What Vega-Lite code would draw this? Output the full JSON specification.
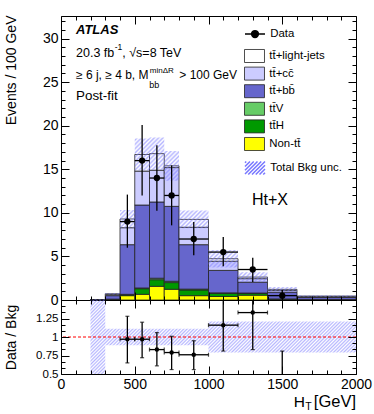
{
"$schema": "https://vega.github.io/schema/vega-lite/v6.json",
"background": "white",
"padding": {"left": 3, "top": 13, "right": 5, "bottom": 5},
"spacing": 0,
"bounds": "flush",
"datasets": {
"bkg": [
{"lo":200,"hi":300,"k":1,"p":"Non-tt\u0304","v":0},{"lo":200,"hi":300,"k":2,"p":"tt\u0304H","v":0},{"lo":200,"hi":300,"k":3,"p":"tt\u0304V","v":0},{"lo":200,"hi":300,"k":4,"p":"tt\u0304+bb\u0304","v":0.03},{"lo":200,"hi":300,"k":5,"p":"tt\u0304+cc\u0304","v":0.01},{"lo":200,"hi":300,"k":6,"p":"tt\u0304+light-jets","v":0.01},
{"lo":300,"hi":400,"k":1,"p":"Non-tt\u0304","v":0.05},{"lo":300,"hi":400,"k":2,"p":"tt\u0304H","v":0.03},{"lo":300,"hi":400,"k":3,"p":"tt\u0304V","v":0.02},{"lo":300,"hi":400,"k":4,"p":"tt\u0304+bb\u0304","v":0.4},{"lo":300,"hi":400,"k":5,"p":"tt\u0304+cc\u0304","v":0.12},{"lo":300,"hi":400,"k":6,"p":"tt\u0304+light-jets","v":0.1},
{"lo":400,"hi":500,"k":1,"p":"Non-tt\u0304","v":0.5},{"lo":400,"hi":500,"k":2,"p":"tt\u0304H","v":0.1},{"lo":400,"hi":500,"k":3,"p":"tt\u0304V","v":0.05},{"lo":400,"hi":500,"k":4,"p":"tt\u0304+bb\u0304","v":5.7},{"lo":400,"hi":500,"k":5,"p":"tt\u0304+cc\u0304","v":1.95},{"lo":400,"hi":500,"k":6,"p":"tt\u0304+light-jets","v":1.0},
{"lo":500,"hi":600,"k":1,"p":"Non-tt\u0304","v":0.65},{"lo":500,"hi":600,"k":2,"p":"tt\u0304H","v":0.65},{"lo":500,"hi":600,"k":3,"p":"tt\u0304V","v":0.08},{"lo":500,"hi":600,"k":4,"p":"tt\u0304+bb\u0304","v":9.52},{"lo":500,"hi":600,"k":5,"p":"tt\u0304+cc\u0304","v":3.9},{"lo":500,"hi":600,"k":6,"p":"tt\u0304+light-jets","v":1.9},
{"lo":600,"hi":700,"k":1,"p":"Non-tt\u0304","v":1.57},{"lo":600,"hi":700,"k":2,"p":"tt\u0304H","v":0.76},{"lo":600,"hi":700,"k":3,"p":"tt\u0304V","v":0.17},{"lo":600,"hi":700,"k":4,"p":"tt\u0304+bb\u0304","v":8.75},{"lo":600,"hi":700,"k":5,"p":"tt\u0304+cc\u0304","v":3.65},{"lo":600,"hi":700,"k":6,"p":"tt\u0304+light-jets","v":1.9},
{"lo":700,"hi":800,"k":1,"p":"Non-tt\u0304","v":1.23},{"lo":700,"hi":800,"k":2,"p":"tt\u0304H","v":0.77},{"lo":700,"hi":800,"k":3,"p":"tt\u0304V","v":0.15},{"lo":700,"hi":800,"k":4,"p":"tt\u0304+bb\u0304","v":8.6},{"lo":700,"hi":800,"k":5,"p":"tt\u0304+cc\u0304","v":4.45},{"lo":700,"hi":800,"k":6,"p":"tt\u0304+light-jets","v":0.2},
{"lo":800,"hi":1000,"k":1,"p":"Non-tt\u0304","v":0.5},{"lo":800,"hi":1000,"k":2,"p":"tt\u0304H","v":0.65},{"lo":800,"hi":1000,"k":3,"p":"tt\u0304V","v":0.1},{"lo":800,"hi":1000,"k":4,"p":"tt\u0304+bb\u0304","v":5.1},{"lo":800,"hi":1000,"k":5,"p":"tt\u0304+cc\u0304","v":2.0},{"lo":800,"hi":1000,"k":6,"p":"tt\u0304+light-jets","v":0.9},
{"lo":1000,"hi":1200,"k":1,"p":"Non-tt\u0304","v":0.4},{"lo":1000,"hi":1200,"k":2,"p":"tt\u0304H","v":0.35},{"lo":1000,"hi":1200,"k":3,"p":"tt\u0304V","v":0.07},{"lo":1000,"hi":1200,"k":4,"p":"tt\u0304+bb\u0304","v":2.58},{"lo":1000,"hi":1200,"k":5,"p":"tt\u0304+cc\u0304","v":1.05},{"lo":1000,"hi":1200,"k":6,"p":"tt\u0304+light-jets","v":0.29},
{"lo":1200,"hi":1400,"k":1,"p":"Non-tt\u0304","v":0.55},{"lo":1200,"hi":1400,"k":2,"p":"tt\u0304H","v":0.2},{"lo":1200,"hi":1400,"k":3,"p":"tt\u0304V","v":0.05},{"lo":1200,"hi":1400,"k":4,"p":"tt\u0304+bb\u0304","v":1.25},{"lo":1200,"hi":1400,"k":5,"p":"tt\u0304+cc\u0304","v":0.4},{"lo":1200,"hi":1400,"k":6,"p":"tt\u0304+light-jets","v":0.18},
{"lo":1400,"hi":1600,"k":1,"p":"Non-tt\u0304","v":0.05},{"lo":1400,"hi":1600,"k":2,"p":"tt\u0304H","v":0.05},{"lo":1400,"hi":1600,"k":3,"p":"tt\u0304V","v":0.02},{"lo":1400,"hi":1600,"k":4,"p":"tt\u0304+bb\u0304","v":0.78},{"lo":1400,"hi":1600,"k":5,"p":"tt\u0304+cc\u0304","v":0.2},{"lo":1400,"hi":1600,"k":6,"p":"tt\u0304+light-jets","v":0.12},
{"lo":1600,"hi":2000,"k":1,"p":"Non-tt\u0304","v":0.02},{"lo":1600,"hi":2000,"k":2,"p":"tt\u0304H","v":0.02},{"lo":1600,"hi":2000,"k":3,"p":"tt\u0304V","v":0.01},{"lo":1600,"hi":2000,"k":4,"p":"tt\u0304+bb\u0304","v":0.23},{"lo":1600,"hi":2000,"k":5,"p":"tt\u0304+cc\u0304","v":0.1},{"lo":1600,"hi":2000,"k":6,"p":"tt\u0304+light-jets","v":0.07}
],
"obs": [
{"x":450,"xl":400,"xh":500,"n":9,"lo":6.0,"hi":12.1},
{"x":550,"xl":500,"xh":600,"n":16,"lo":12.0,"hi":20.1},
{"x":650,"xl":600,"xh":700,"n":14,"lo":10.25,"hi":17.75},
{"x":750,"xl":700,"xh":800,"n":12,"lo":8.57,"hi":15.45},
{"x":900,"xl":800,"xh":1000,"n":7,"lo":5.13,"hi":8.95},
{"x":1100,"xl":1000,"xh":1200,"n":5.5,"lo":3.86,"hi":7.23},
{"x":1300,"xl":1200,"xh":1400,"n":3.5,"lo":2.07,"hi":4.86},
{"x":1500,"xl":1400,"xh":1600,"n":0.5,"lo":0.08,"hi":1.15}
],
"band": [
{"x":200,"lo":0,"hi":0.1},{"x":300,"lo":0.64,"hi":0.8},{"x":400,"lo":8.28,"hi":10.32},{"x":500,"lo":14.86,"hi":18.54},{"x":600,"lo":14.95,"hi":18.65},{"x":700,"lo":13.7,"hi":17.1},{"x":800,"lo":8.23,"hi":10.27},{"x":1000,"lo":3.74,"hi":5.74},{"x":1200,"lo":2.08,"hi":3.18},{"x":1400,"lo":0.96,"hi":1.48},{"x":1600,"lo":0.36,"hi":0.54},{"x":2000,"lo":0.36,"hi":0.54}
],
"ratio": [
{"x":450,"xl":400,"xh":500,"r":0.97,"lo":0.65,"hi":1.28},
{"x":550,"xl":500,"xh":600,"r":0.97,"lo":0.72,"hi":1.2},
{"x":650,"xl":600,"xh":700,"r":0.83,"lo":0.61,"hi":1.06},
{"x":750,"xl":700,"xh":800,"r":0.79,"lo":0.56,"hi":1.01},
{"x":900,"xl":800,"xh":1000,"r":0.76,"lo":0.56,"hi":0.95},
{"x":1100,"xl":1000,"xh":1200,"r":1.16,"lo":0.81,"hi":1.55},
{"x":1300,"xl":1200,"xh":1400,"r":1.33,"lo":0.83,"hi":1.7},
{"x":1500,"xl":1400,"xh":1600,"r":0.4,"lo":0.0,"hi":0.81}
],
"rband": [
{"x":200,"lo":0.5,"hi":1.5},{"x":300,"lo":0.89,"hi":1.11},{"x":400,"lo":0.89,"hi":1.11},{"x":500,"lo":0.89,"hi":1.11},{"x":600,"lo":0.89,"hi":1.11},{"x":700,"lo":0.89,"hi":1.11},{"x":800,"lo":0.89,"hi":1.11},{"x":1000,"lo":0.79,"hi":1.21},{"x":1200,"lo":0.79,"hi":1.21},{"x":1400,"lo":0.79,"hi":1.21},{"x":1600,"lo":0.79,"hi":1.21},{"x":2000,"lo":0.79,"hi":1.21}
]
},
"vconcat": [
{
"width": 295,
"height": 284,
"layer": [
{
"data": {"name": "bkg"},
"transform": [{"stack": "v", "groupby": ["lo"], "sort": [{"field": "k", "order": "ascending"}], "as": ["y0", "y1"]}],
"mark": {"type": "bar", "stroke": "#222222", "strokeWidth": 0.8},
"encoding": {
"x": {"field": "lo", "type": "quantitative", "scale": {"domain": [0, 2000], "nice": false},
 "axis": {"orient": "bottom", "zindex": 1, "values": [0,100,200,300,400,500,600,700,800,900,1000,1100,1200,1300,1400,1500,1600,1700,1800,1900,2000], "labels": false, "title": null,
  "tickSize": {"condition": {"test": "datum.value % 500 === 0", "value": -8}, "value": -4}}},
"x2": {"field": "hi"},
"y": {"field": "y0", "type": "quantitative", "scale": {"domain": [0, 32.6], "nice": false, "zero": false},
 "axis": {"orient": "left", "zindex": 1, "values": [0,1,2,3,4,5,6,7,8,9,10,11,12,13,14,15,16,17,18,19,20,21,22,23,24,25,26,27,28,29,30,31,32], "format": "d",
  "labelExpr": "datum.value % 5 === 0 ? datum.label : ''", "labelOverlap": false, "labelPadding": 11, "labelFontSize": 14,
  "tickSize": {"condition": {"test": "datum.value % 5 === 0", "value": -8}, "value": -4},
  "title": "Events / 100 GeV", "titleX": -45.5, "titleY": -1, "titleAngle": -90, "titleAlign": "right", "titleBaseline": "alphabetic", "titleFontSize": 14}},
"y2": {"field": "y1"},
"fill": {"field": "p", "type": "nominal",
 "scale": {"domain": ["tt\u0304+light-jets", "tt\u0304+cc\u0304", "tt\u0304+bb\u0304", "tt\u0304V", "tt\u0304H", "Non-tt\u0304"], "range": ["#ffffff", "#ccccff", "#6666cc", "#66cc66", "#009900", "#ffff00"]},
 "legend": {"orient": "none", "legendX": 185.5, "legendY": 32, "title": null, "padding": 0, "symbolType": "M-1.333,-0.867H1.333V0.867H-1.333Z", "symbolSize": 225, "rowPadding": -0.4, "labelOffset": 6.8, "labelFontSize": 11.4, "labelFont": "Liberation Sans", "labelColor": "black", "symbolStrokeWidth": 0.8}}
}
},
{
"data": {"name": "band"},
"mark": {"type": "area", "interpolate": "step-after", "fill": {"gradient": "linear", "x1": 0, "y1": 0, "x2": 1.173, "y2": 0.717, "stops": [
{"offset":0,"color":"#77f8"},{"offset":0.005,"color":"#77f0"},{"offset":0.01,"color":"#77f8"},{"offset":0.015,"color":"#77f0"},{"offset":0.02,"color":"#77f8"},{"offset":0.025,"color":"#77f0"},{"offset":0.03,"color":"#77f8"},{"offset":0.035,"color":"#77f0"},{"offset":0.04,"color":"#77f8"},{"offset":0.045,"color":"#77f0"},{"offset":0.05,"color":"#77f8"},{"offset":0.055,"color":"#77f0"},{"offset":0.06,"color":"#77f8"},{"offset":0.065,"color":"#77f0"},{"offset":0.07,"color":"#77f8"},{"offset":0.075,"color":"#77f0"},{"offset":0.08,"color":"#77f8"},{"offset":0.085,"color":"#77f0"},{"offset":0.09,"color":"#77f8"},{"offset":0.095,"color":"#77f0"},
{"offset":0.1,"color":"#77f8"},{"offset":0.105,"color":"#77f0"},{"offset":0.11,"color":"#77f8"},{"offset":0.115,"color":"#77f0"},{"offset":0.12,"color":"#77f8"},{"offset":0.125,"color":"#77f0"},{"offset":0.13,"color":"#77f8"},{"offset":0.135,"color":"#77f0"},{"offset":0.14,"color":"#77f8"},{"offset":0.145,"color":"#77f0"},{"offset":0.15,"color":"#77f8"},{"offset":0.155,"color":"#77f0"},{"offset":0.16,"color":"#77f8"},{"offset":0.165,"color":"#77f0"},{"offset":0.17,"color":"#77f8"},{"offset":0.175,"color":"#77f0"},{"offset":0.18,"color":"#77f8"},{"offset":0.185,"color":"#77f0"},{"offset":0.19,"color":"#77f8"},{"offset":0.195,"color":"#77f0"},
{"offset":0.2,"color":"#77f8"},{"offset":0.205,"color":"#77f0"},{"offset":0.21,"color":"#77f8"},{"offset":0.215,"color":"#77f0"},{"offset":0.22,"color":"#77f8"},{"offset":0.225,"color":"#77f0"},{"offset":0.23,"color":"#77f8"},{"offset":0.235,"color":"#77f0"},{"offset":0.24,"color":"#77f8"},{"offset":0.245,"color":"#77f0"},{"offset":0.25,"color":"#77f8"},{"offset":0.255,"color":"#77f0"},{"offset":0.26,"color":"#77f8"},{"offset":0.265,"color":"#77f0"},{"offset":0.27,"color":"#77f8"},{"offset":0.275,"color":"#77f0"},{"offset":0.28,"color":"#77f8"},{"offset":0.285,"color":"#77f0"},{"offset":0.29,"color":"#77f8"},{"offset":0.295,"color":"#77f0"},
{"offset":0.3,"color":"#77f8"},{"offset":0.305,"color":"#77f0"},{"offset":0.31,"color":"#77f8"},{"offset":0.315,"color":"#77f0"},{"offset":0.32,"color":"#77f8"},{"offset":0.325,"color":"#77f0"},{"offset":0.33,"color":"#77f8"},{"offset":0.335,"color":"#77f0"},{"offset":0.34,"color":"#77f8"},{"offset":0.345,"color":"#77f0"},{"offset":0.35,"color":"#77f8"},{"offset":0.355,"color":"#77f0"},{"offset":0.36,"color":"#77f8"},{"offset":0.365,"color":"#77f0"},{"offset":0.37,"color":"#77f8"},{"offset":0.375,"color":"#77f0"},{"offset":0.38,"color":"#77f8"},{"offset":0.385,"color":"#77f0"},{"offset":0.39,"color":"#77f8"},{"offset":0.395,"color":"#77f0"},
{"offset":0.4,"color":"#77f8"},{"offset":0.405,"color":"#77f0"},{"offset":0.41,"color":"#77f8"},{"offset":0.415,"color":"#77f0"},{"offset":0.42,"color":"#77f8"},{"offset":0.425,"color":"#77f0"},{"offset":0.43,"color":"#77f8"},{"offset":0.435,"color":"#77f0"},{"offset":0.44,"color":"#77f8"},{"offset":0.445,"color":"#77f0"},{"offset":0.45,"color":"#77f8"},{"offset":0.455,"color":"#77f0"},{"offset":0.46,"color":"#77f8"},{"offset":0.465,"color":"#77f0"},{"offset":0.47,"color":"#77f8"},{"offset":0.475,"color":"#77f0"},{"offset":0.48,"color":"#77f8"},{"offset":0.485,"color":"#77f0"},{"offset":0.49,"color":"#77f8"},{"offset":0.495,"color":"#77f0"},
{"offset":0.5,"color":"#77f8"},{"offset":0.505,"color":"#77f0"},{"offset":0.51,"color":"#77f8"},{"offset":0.515,"color":"#77f0"},{"offset":0.52,"color":"#77f8"},{"offset":0.525,"color":"#77f0"},{"offset":0.53,"color":"#77f8"},{"offset":0.535,"color":"#77f0"},{"offset":0.54,"color":"#77f8"},{"offset":0.545,"color":"#77f0"},{"offset":0.55,"color":"#77f8"},{"offset":0.555,"color":"#77f0"},{"offset":0.56,"color":"#77f8"},{"offset":0.565,"color":"#77f0"},{"offset":0.57,"color":"#77f8"},{"offset":0.575,"color":"#77f0"},{"offset":0.58,"color":"#77f8"},{"offset":0.585,"color":"#77f0"},{"offset":0.59,"color":"#77f8"},{"offset":0.595,"color":"#77f0"},
{"offset":0.6,"color":"#77f8"},{"offset":0.605,"color":"#77f0"},{"offset":0.61,"color":"#77f8"},{"offset":0.615,"color":"#77f0"},{"offset":0.62,"color":"#77f8"},{"offset":0.625,"color":"#77f0"},{"offset":0.63,"color":"#77f8"},{"offset":0.635,"color":"#77f0"},{"offset":0.64,"color":"#77f8"},{"offset":0.645,"color":"#77f0"},{"offset":0.65,"color":"#77f8"},{"offset":0.655,"color":"#77f0"},{"offset":0.66,"color":"#77f8"},{"offset":0.665,"color":"#77f0"},{"offset":0.67,"color":"#77f8"},{"offset":0.675,"color":"#77f0"},{"offset":0.68,"color":"#77f8"},{"offset":0.685,"color":"#77f0"},{"offset":0.69,"color":"#77f8"},{"offset":0.695,"color":"#77f0"},
{"offset":0.7,"color":"#77f8"},{"offset":0.705,"color":"#77f0"},{"offset":0.71,"color":"#77f8"},{"offset":0.715,"color":"#77f0"},{"offset":0.72,"color":"#77f8"},{"offset":0.725,"color":"#77f0"},{"offset":0.73,"color":"#77f8"},{"offset":0.735,"color":"#77f0"},{"offset":0.74,"color":"#77f8"},{"offset":0.745,"color":"#77f0"},{"offset":0.75,"color":"#77f8"},{"offset":0.755,"color":"#77f0"},{"offset":0.76,"color":"#77f8"},{"offset":0.765,"color":"#77f0"},{"offset":0.77,"color":"#77f8"},{"offset":0.775,"color":"#77f0"},{"offset":0.78,"color":"#77f8"},{"offset":0.785,"color":"#77f0"},{"offset":0.79,"color":"#77f8"},{"offset":0.795,"color":"#77f0"},
{"offset":0.8,"color":"#77f8"},{"offset":0.805,"color":"#77f0"},{"offset":0.81,"color":"#77f8"},{"offset":0.815,"color":"#77f0"},{"offset":0.82,"color":"#77f8"},{"offset":0.825,"color":"#77f0"},{"offset":0.83,"color":"#77f8"},{"offset":0.835,"color":"#77f0"},{"offset":0.84,"color":"#77f8"},{"offset":0.845,"color":"#77f0"},{"offset":0.85,"color":"#77f8"},{"offset":0.855,"color":"#77f0"},{"offset":0.86,"color":"#77f8"},{"offset":0.865,"color":"#77f0"},{"offset":0.87,"color":"#77f8"},{"offset":0.875,"color":"#77f0"},{"offset":0.88,"color":"#77f8"},{"offset":0.885,"color":"#77f0"},{"offset":0.89,"color":"#77f8"},{"offset":0.895,"color":"#77f0"},
{"offset":0.9,"color":"#77f8"},{"offset":0.905,"color":"#77f0"},{"offset":0.91,"color":"#77f8"},{"offset":0.915,"color":"#77f0"},{"offset":0.92,"color":"#77f8"},{"offset":0.925,"color":"#77f0"},{"offset":0.93,"color":"#77f8"},{"offset":0.935,"color":"#77f0"},{"offset":0.94,"color":"#77f8"},{"offset":0.945,"color":"#77f0"},{"offset":0.95,"color":"#77f8"},{"offset":0.955,"color":"#77f0"},{"offset":0.96,"color":"#77f8"},{"offset":0.965,"color":"#77f0"},{"offset":0.97,"color":"#77f8"},{"offset":0.975,"color":"#77f0"},{"offset":0.98,"color":"#77f8"},{"offset":0.985,"color":"#77f0"},{"offset":0.99,"color":"#77f8"},{"offset":0.995,"color":"#77f0"},{"offset":1,"color":"#77f8"}
]}},
"encoding": {
"x": {"field": "x", "type": "quantitative",
 "axis": {"orient": "top", "zindex": 1, "values": [0,100,200,300,400,500,600,700,800,900,1000,1100,1200,1300,1400,1500,1600,1700,1800,1900,2000], "labels": false, "title": null,
  "tickSize": {"condition": {"test": "datum.value % 500 === 0", "value": -8}, "value": -4}}},
"y": {"field": "lo", "type": "quantitative",
 "axis": {"orient": "right", "zindex": 1, "values": [0,1,2,3,4,5,6,7,8,9,10,11,12,13,14,15,16,17,18,19,20,21,22,23,24,25,26,27,28,29,30,31,32], "labels": false, "title": null,
  "tickSize": {"condition": {"test": "datum.value % 5 === 0", "value": -8}, "value": -4}}},
"y2": {"field": "hi"}
}
},
{
"data": {"name": "obs"},
"mark": {"type": "rule", "color": "black", "strokeWidth": 1.3},
"encoding": {"x": {"field": "x", "type": "quantitative", "axis": null}, "y": {"field": "lo", "type": "quantitative", "axis": null}, "y2": {"field": "hi"}}
},
{
"data": {"name": "obs"},
"mark": {"type": "rule", "color": "black", "strokeWidth": 1.3},
"encoding": {"x": {"field": "xl", "type": "quantitative", "axis": null}, "x2": {"field": "xh"}, "y": {"field": "n", "type": "quantitative", "axis": null}}
},
{
"data": {"name": "obs"},
"mark": {"type": "point", "filled": true, "size": 40, "color": "black", "opacity": 1},
"encoding": {"x": {"field": "x", "type": "quantitative", "axis": null}, "y": {"field": "n", "type": "quantitative", "axis": null}}
},
{
"data": {"name": "obs"},
"transform": [{"filter": "false"}],
"mark": {"type": "point", "filled": true, "color": "black", "stroke": "black", "strokeWidth": 1.2, "size": 225, "opacity": 1},
"encoding": {"shape": {"datum": "Data", "scale": {"range": ["M-1.333,0H1.333M0.45,0A0.45,0.45,0,1,1,-0.45,0A0.45,0.45,0,1,1,0.45,0Z"]},
 "legend": {"orient": "none", "legendX": 185.5, "legendY": 9.5, "title": null, "padding": 0, "symbolSize": 225, "labelOffset": 6.8, "labelFontSize": 11.4, "labelFont": "Liberation Sans", "labelColor": "black"}}}
},
{
"data": {"name": "obs"},
"transform": [{"filter": "false"}],
"mark": {"type": "point", "filled": false, "color": "#7777ff", "strokeWidth": 1, "size": 225, "opacity": 1},
"encoding": {"shape": {"datum": "Total Bkg unc.", "scale": {"range": ["M-1.333,-0.7L-1.167,-0.867M-1.333,-0.2L-0.667,-0.867M-1.333,0.3L-0.167,-0.867M-1.333,0.8L0.333,-0.867M-0.9,0.867L0.833,-0.867M-0.4,0.867L1.333,-0.867M0.1,0.867L1.333,-0.366M0.6,0.867L1.333,0.134M1.1,0.867L1.333,0.634"]},
 "legend": {"orient": "none", "legendX": 185.5, "legendY": 143.5, "title": null, "padding": 0, "symbolSize": 225, "labelOffset": 6.8, "labelFontSize": 11.4, "labelFont": "Liberation Sans", "labelColor": "black"}}}
},
{
"data": {"values": [{}]},
"mark": {"type": "text", "text": "ATLAS", "fontSize": 13, "fontStyle": "italic", "fontWeight": "bold", "align": "left", "baseline": "alphabetic"},
"encoding": {"x": {"datum": 101.7, "type": "quantitative", "axis": null}, "y": {"datum": 30.5, "type": "quantitative", "axis": null}}
},
{
"data": {"values": [{}]},
"mark": {"type": "text", "text": "20.3 fb", "fontSize": 12.5, "align": "left", "baseline": "alphabetic"},
"encoding": {"x": {"datum": 101.7, "type": "quantitative", "axis": null}, "y": {"datum": 27.9, "type": "quantitative", "axis": null}}
},
{
"data": {"values": [{}]},
"mark": {"type": "text", "text": "-1", "fontSize": 8.5, "align": "left", "baseline": "alphabetic", "dx": 38.7, "dy": -7},
"encoding": {"x": {"datum": 101.7, "type": "quantitative", "axis": null}, "y": {"datum": 27.9, "type": "quantitative", "axis": null}}
},
{
"data": {"values": [{}]},
"mark": {"type": "text", "text": ", \u221as=8 TeV", "fontSize": 12.5, "align": "left", "baseline": "alphabetic", "dx": 46.3},
"encoding": {"x": {"datum": 101.7, "type": "quantitative", "axis": null}, "y": {"datum": 27.9, "type": "quantitative", "axis": null}}
},
{
"data": {"values": [{}]},
"mark": {"type": "text", "text": "\u2265 6 j, \u2265 4 b, M", "fontSize": 12, "align": "left", "baseline": "alphabetic"},
"encoding": {"x": {"datum": 101.7, "type": "quantitative", "axis": null}, "y": {"datum": 25.4, "type": "quantitative", "axis": null}}
},
{
"data": {"values": [{}]},
"mark": {"type": "text", "text": "min\u0394R", "fontSize": 8, "align": "left", "baseline": "alphabetic", "dx": 73.8, "dy": -6},
"encoding": {"x": {"datum": 101.7, "type": "quantitative", "axis": null}, "y": {"datum": 25.4, "type": "quantitative", "axis": null}}
},
{
"data": {"values": [{}]},
"mark": {"type": "text", "text": "bb", "fontSize": 9, "align": "left", "baseline": "alphabetic", "dx": 73.3, "dy": 9},
"encoding": {"x": {"datum": 101.7, "type": "quantitative", "axis": null}, "y": {"datum": 25.4, "type": "quantitative", "axis": null}}
},
{
"data": {"values": [{}]},
"mark": {"type": "text", "text": "> 100 GeV", "fontSize": 12, "align": "left", "baseline": "alphabetic", "dx": 103.3},
"encoding": {"x": {"datum": 101.7, "type": "quantitative", "axis": null}, "y": {"datum": 25.4, "type": "quantitative", "axis": null}}
},
{
"data": {"values": [{}]},
"mark": {"type": "text", "text": "Post-fit", "fontSize": 13.4, "align": "left", "baseline": "alphabetic"},
"encoding": {"x": {"datum": 101.7, "type": "quantitative", "axis": null}, "y": {"datum": 22.93, "type": "quantitative", "axis": null}}
},
{
"data": {"values": [{}]},
"mark": {"type": "text", "text": "Ht+X", "fontSize": 16, "align": "center", "baseline": "alphabetic"},
"encoding": {"x": {"datum": 1417, "type": "quantitative", "axis": null}, "y": {"datum": 10.87, "type": "quantitative", "axis": null}}
}
],
"resolve": {"axis": {"x": "independent", "y": "independent"}, "scale": {"shape": "independent"}}
},
{
"width": 295,
"height": 74,
"layer": [
{
"data": {"name": "rband"},
"mark": {"type": "area", "interpolate": "step-after", "fill": {"gradient": "linear", "x1": 0, "y1": 0, "x2": 1.1865, "y2": 0.3307, "stops": [
{"offset":0,"color":"#77f8"},{"offset":0.005,"color":"#77f0"},{"offset":0.01,"color":"#77f8"},{"offset":0.015,"color":"#77f0"},{"offset":0.02,"color":"#77f8"},{"offset":0.025,"color":"#77f0"},{"offset":0.03,"color":"#77f8"},{"offset":0.035,"color":"#77f0"},{"offset":0.04,"color":"#77f8"},{"offset":0.045,"color":"#77f0"},{"offset":0.05,"color":"#77f8"},{"offset":0.055,"color":"#77f0"},{"offset":0.06,"color":"#77f8"},{"offset":0.065,"color":"#77f0"},{"offset":0.07,"color":"#77f8"},{"offset":0.075,"color":"#77f0"},{"offset":0.08,"color":"#77f8"},{"offset":0.085,"color":"#77f0"},{"offset":0.09,"color":"#77f8"},{"offset":0.095,"color":"#77f0"},
{"offset":0.1,"color":"#77f8"},{"offset":0.105,"color":"#77f0"},{"offset":0.11,"color":"#77f8"},{"offset":0.115,"color":"#77f0"},{"offset":0.12,"color":"#77f8"},{"offset":0.125,"color":"#77f0"},{"offset":0.13,"color":"#77f8"},{"offset":0.135,"color":"#77f0"},{"offset":0.14,"color":"#77f8"},{"offset":0.145,"color":"#77f0"},{"offset":0.15,"color":"#77f8"},{"offset":0.155,"color":"#77f0"},{"offset":0.16,"color":"#77f8"},{"offset":0.165,"color":"#77f0"},{"offset":0.17,"color":"#77f8"},{"offset":0.175,"color":"#77f0"},{"offset":0.18,"color":"#77f8"},{"offset":0.185,"color":"#77f0"},{"offset":0.19,"color":"#77f8"},{"offset":0.195,"color":"#77f0"},
{"offset":0.2,"color":"#77f8"},{"offset":0.205,"color":"#77f0"},{"offset":0.21,"color":"#77f8"},{"offset":0.215,"color":"#77f0"},{"offset":0.22,"color":"#77f8"},{"offset":0.225,"color":"#77f0"},{"offset":0.23,"color":"#77f8"},{"offset":0.235,"color":"#77f0"},{"offset":0.24,"color":"#77f8"},{"offset":0.245,"color":"#77f0"},{"offset":0.25,"color":"#77f8"},{"offset":0.255,"color":"#77f0"},{"offset":0.26,"color":"#77f8"},{"offset":0.265,"color":"#77f0"},{"offset":0.27,"color":"#77f8"},{"offset":0.275,"color":"#77f0"},{"offset":0.28,"color":"#77f8"},{"offset":0.285,"color":"#77f0"},{"offset":0.29,"color":"#77f8"},{"offset":0.295,"color":"#77f0"},
{"offset":0.3,"color":"#77f8"},{"offset":0.305,"color":"#77f0"},{"offset":0.31,"color":"#77f8"},{"offset":0.315,"color":"#77f0"},{"offset":0.32,"color":"#77f8"},{"offset":0.325,"color":"#77f0"},{"offset":0.33,"color":"#77f8"},{"offset":0.335,"color":"#77f0"},{"offset":0.34,"color":"#77f8"},{"offset":0.345,"color":"#77f0"},{"offset":0.35,"color":"#77f8"},{"offset":0.355,"color":"#77f0"},{"offset":0.36,"color":"#77f8"},{"offset":0.365,"color":"#77f0"},{"offset":0.37,"color":"#77f8"},{"offset":0.375,"color":"#77f0"},{"offset":0.38,"color":"#77f8"},{"offset":0.385,"color":"#77f0"},{"offset":0.39,"color":"#77f8"},{"offset":0.395,"color":"#77f0"},
{"offset":0.4,"color":"#77f8"},{"offset":0.405,"color":"#77f0"},{"offset":0.41,"color":"#77f8"},{"offset":0.415,"color":"#77f0"},{"offset":0.42,"color":"#77f8"},{"offset":0.425,"color":"#77f0"},{"offset":0.43,"color":"#77f8"},{"offset":0.435,"color":"#77f0"},{"offset":0.44,"color":"#77f8"},{"offset":0.445,"color":"#77f0"},{"offset":0.45,"color":"#77f8"},{"offset":0.455,"color":"#77f0"},{"offset":0.46,"color":"#77f8"},{"offset":0.465,"color":"#77f0"},{"offset":0.47,"color":"#77f8"},{"offset":0.475,"color":"#77f0"},{"offset":0.48,"color":"#77f8"},{"offset":0.485,"color":"#77f0"},{"offset":0.49,"color":"#77f8"},{"offset":0.495,"color":"#77f0"},
{"offset":0.5,"color":"#77f8"},{"offset":0.505,"color":"#77f0"},{"offset":0.51,"color":"#77f8"},{"offset":0.515,"color":"#77f0"},{"offset":0.52,"color":"#77f8"},{"offset":0.525,"color":"#77f0"},{"offset":0.53,"color":"#77f8"},{"offset":0.535,"color":"#77f0"},{"offset":0.54,"color":"#77f8"},{"offset":0.545,"color":"#77f0"},{"offset":0.55,"color":"#77f8"},{"offset":0.555,"color":"#77f0"},{"offset":0.56,"color":"#77f8"},{"offset":0.565,"color":"#77f0"},{"offset":0.57,"color":"#77f8"},{"offset":0.575,"color":"#77f0"},{"offset":0.58,"color":"#77f8"},{"offset":0.585,"color":"#77f0"},{"offset":0.59,"color":"#77f8"},{"offset":0.595,"color":"#77f0"},
{"offset":0.6,"color":"#77f8"},{"offset":0.605,"color":"#77f0"},{"offset":0.61,"color":"#77f8"},{"offset":0.615,"color":"#77f0"},{"offset":0.62,"color":"#77f8"},{"offset":0.625,"color":"#77f0"},{"offset":0.63,"color":"#77f8"},{"offset":0.635,"color":"#77f0"},{"offset":0.64,"color":"#77f8"},{"offset":0.645,"color":"#77f0"},{"offset":0.65,"color":"#77f8"},{"offset":0.655,"color":"#77f0"},{"offset":0.66,"color":"#77f8"},{"offset":0.665,"color":"#77f0"},{"offset":0.67,"color":"#77f8"},{"offset":0.675,"color":"#77f0"},{"offset":0.68,"color":"#77f8"},{"offset":0.685,"color":"#77f0"},{"offset":0.69,"color":"#77f8"},{"offset":0.695,"color":"#77f0"},
{"offset":0.7,"color":"#77f8"},{"offset":0.705,"color":"#77f0"},{"offset":0.71,"color":"#77f8"},{"offset":0.715,"color":"#77f0"},{"offset":0.72,"color":"#77f8"},{"offset":0.725,"color":"#77f0"},{"offset":0.73,"color":"#77f8"},{"offset":0.735,"color":"#77f0"},{"offset":0.74,"color":"#77f8"},{"offset":0.745,"color":"#77f0"},{"offset":0.75,"color":"#77f8"},{"offset":0.755,"color":"#77f0"},{"offset":0.76,"color":"#77f8"},{"offset":0.765,"color":"#77f0"},{"offset":0.77,"color":"#77f8"},{"offset":0.775,"color":"#77f0"},{"offset":0.78,"color":"#77f8"},{"offset":0.785,"color":"#77f0"},{"offset":0.79,"color":"#77f8"},{"offset":0.795,"color":"#77f0"},
{"offset":0.8,"color":"#77f8"},{"offset":0.805,"color":"#77f0"},{"offset":0.81,"color":"#77f8"},{"offset":0.815,"color":"#77f0"},{"offset":0.82,"color":"#77f8"},{"offset":0.825,"color":"#77f0"},{"offset":0.83,"color":"#77f8"},{"offset":0.835,"color":"#77f0"},{"offset":0.84,"color":"#77f8"},{"offset":0.845,"color":"#77f0"},{"offset":0.85,"color":"#77f8"},{"offset":0.855,"color":"#77f0"},{"offset":0.86,"color":"#77f8"},{"offset":0.865,"color":"#77f0"},{"offset":0.87,"color":"#77f8"},{"offset":0.875,"color":"#77f0"},{"offset":0.88,"color":"#77f8"},{"offset":0.885,"color":"#77f0"},{"offset":0.89,"color":"#77f8"},{"offset":0.895,"color":"#77f0"},
{"offset":0.9,"color":"#77f8"},{"offset":0.905,"color":"#77f0"},{"offset":0.91,"color":"#77f8"},{"offset":0.915,"color":"#77f0"},{"offset":0.92,"color":"#77f8"},{"offset":0.925,"color":"#77f0"},{"offset":0.93,"color":"#77f8"},{"offset":0.935,"color":"#77f0"},{"offset":0.94,"color":"#77f8"},{"offset":0.945,"color":"#77f0"},{"offset":0.95,"color":"#77f8"},{"offset":0.955,"color":"#77f0"},{"offset":0.96,"color":"#77f8"},{"offset":0.965,"color":"#77f0"},{"offset":0.97,"color":"#77f8"},{"offset":0.975,"color":"#77f0"},{"offset":0.98,"color":"#77f8"},{"offset":0.985,"color":"#77f0"},{"offset":0.99,"color":"#77f8"},{"offset":0.995,"color":"#77f0"},{"offset":1,"color":"#77f8"}
]}},
"encoding": {
"x": {"field": "x", "type": "quantitative", "scale": {"domain": [0, 2000], "nice": false},
 "axis": {"orient": "bottom", "zindex": 1, "values": [0,100,200,300,400,500,600,700,800,900,1000,1100,1200,1300,1400,1500,1600,1700,1800,1900,2000], "format": "d",
  "labelExpr": "datum.value % 500 === 0 ? datum.label : ''", "labelOverlap": false, "labelFlush": false, "labelPadding": 11, "labelFontSize": 14, "title": null,
  "tickSize": {"condition": {"test": "datum.value % 500 === 0", "value": -8}, "value": -4}}},
"y": {"field": "lo", "type": "quantitative", "scale": {"domain": [0.5, 1.5], "nice": false, "zero": false},
 "axis": {"orient": "left", "zindex": 1, "values": [0.5,0.5833,0.6667,0.75,0.8333,0.9167,1,1.0833,1.1667,1.25,1.3333,1.4167,1.5],
  "labelExpr": "abs(datum.value*4-round(datum.value*4))<0.01 && datum.value<1.4 ? format(datum.value, '.2~f') : ''", "labelOverlap": false, "labelPadding": 11, "labelFontSize": 11.5,
  "tickSize": {"condition": {"test": "abs(datum.value*4-round(datum.value*4))<0.01", "value": -8}, "value": -4},
  "title": "Data / Bkg", "titleX": -45.5, "titleY": 37, "titleAngle": -90, "titleAlign": "center", "titleBaseline": "alphabetic", "titleFontSize": 14}},
"y2": {"field": "hi"}
}
},
{
"data": {"values": [{}]},
"mark": {"type": "rule", "color": "#ff0000", "strokeDash": [3, 2], "strokeWidth": 1},
"encoding": {"y": {"datum": 1, "type": "quantitative", "axis": null}}
},
{
"data": {"name": "ratio"},
"mark": {"type": "rule", "color": "black", "strokeWidth": 1.3, "clip": true},
"encoding": {
"x": {"field": "x", "type": "quantitative",
 "axis": {"orient": "top", "zindex": 1, "values": [0,100,200,300,400,500,600,700,800,900,1000,1100,1200,1300,1400,1500,1600,1700,1800,1900,2000], "labels": false, "title": null,
  "tickSize": {"condition": {"test": "datum.value % 500 === 0", "value": -8}, "value": -4}}},
"y": {"field": "lo", "type": "quantitative",
 "axis": {"orient": "right", "zindex": 1, "values": [0.5,0.5833,0.6667,0.75,0.8333,0.9167,1,1.0833,1.1667,1.25,1.3333,1.4167,1.5], "labels": false, "title": null,
  "tickSize": {"condition": {"test": "abs(datum.value*4-round(datum.value*4))<0.01", "value": -8}, "value": -4}}},
"y2": {"field": "hi"}
}
},
{
"data": {"name": "ratio"},
"mark": {"type": "rule", "color": "black", "strokeWidth": 1.3, "clip": true},
"encoding": {"x": {"field": "xl", "type": "quantitative", "axis": null}, "x2": {"field": "xh"}, "y": {"field": "r", "type": "quantitative", "axis": null}}
},
{
"data": {"name": "ratio"},
"mark": {"type": "tick", "orient": "horizontal", "color": "black", "size": 4, "thickness": 1.2, "clip": true},
"encoding": {"x": {"field": "x", "type": "quantitative", "axis": null}, "y": {"field": "lo", "type": "quantitative", "axis": null}}
},
{
"data": {"name": "ratio"},
"mark": {"type": "tick", "orient": "horizontal", "color": "black", "size": 4, "thickness": 1.2, "clip": true},
"encoding": {"x": {"field": "x", "type": "quantitative", "axis": null}, "y": {"field": "hi", "type": "quantitative", "axis": null}}
},
{
"data": {"name": "ratio"},
"mark": {"type": "tick", "orient": "vertical", "color": "black", "size": 4, "thickness": 1.2, "clip": true},
"encoding": {"x": {"field": "xl", "type": "quantitative", "axis": null}, "y": {"field": "r", "type": "quantitative", "axis": null}}
},
{
"data": {"name": "ratio"},
"mark": {"type": "tick", "orient": "vertical", "color": "black", "size": 4, "thickness": 1.2, "clip": true},
"encoding": {"x": {"field": "xh", "type": "quantitative", "axis": null}, "y": {"field": "r", "type": "quantitative", "axis": null}}
},
{
"data": {"name": "ratio"},
"mark": {"type": "point", "filled": true, "size": 20, "color": "black", "opacity": 1, "clip": true},
"encoding": {"x": {"field": "x", "type": "quantitative", "axis": null}, "y": {"field": "r", "type": "quantitative", "axis": null}}
},
{
"data": {"values": [{}]},
"mark": {"type": "text", "text": "H", "fontSize": 15.5, "align": "left", "baseline": "alphabetic", "dx": -62.3, "dy": 32.5},
"encoding": {"x": {"datum": 2000, "type": "quantitative", "axis": null}, "y": {"datum": 0.5, "type": "quantitative", "axis": null}}
},
{
"data": {"values": [{}]},
"mark": {"type": "text", "text": "T", "fontSize": 10.5, "align": "left", "baseline": "alphabetic", "dx": -50.8, "dy": 35.5},
"encoding": {"x": {"datum": 2000, "type": "quantitative", "axis": null}, "y": {"datum": 0.5, "type": "quantitative", "axis": null}}
},
{
"data": {"values": [{}]},
"mark": {"type": "text", "text": "[GeV]", "fontSize": 16.5, "align": "right", "baseline": "alphabetic", "dx": 0, "dy": 32.5},
"encoding": {"x": {"datum": 2000, "type": "quantitative", "axis": null}, "y": {"datum": 0.5, "type": "quantitative", "axis": null}}
}
],
"resolve": {"axis": {"x": "independent", "y": "independent"}}
}
],
"config": {
"font": "Liberation Sans",
"view": {"stroke": "black", "strokeWidth": 1},
"axis": {"domain": false, "grid": false, "tickColor": "black", "tickWidth": 1, "labelFont": "Liberation Sans", "labelColor": "black", "labelFontSize": 14, "titleFont": "Liberation Sans", "titleColor": "black", "titleFontWeight": "normal", "titleFontSize": 14},
"legend": {"labelFont": "Liberation Sans", "labelColor": "black"},
"text": {"font": "Liberation Sans", "color": "black"}
}
}
